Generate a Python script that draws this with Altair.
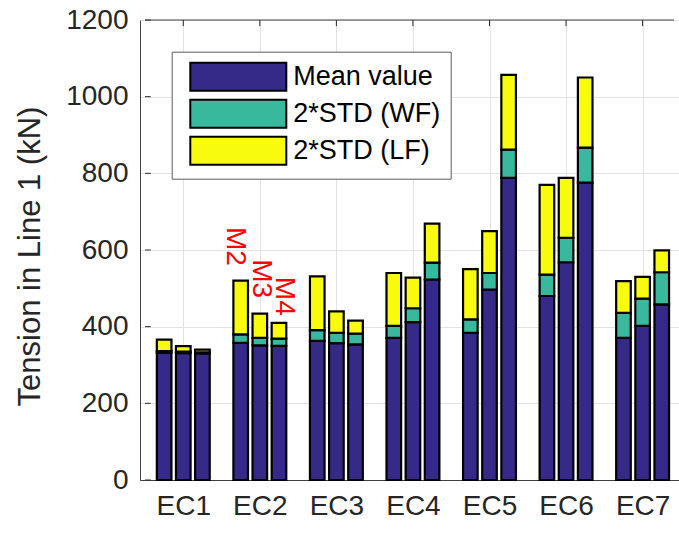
import altair as alt
import pandas as pd

# Load cases and model variants
groups = ["EC1", "EC2", "EC3", "EC4", "EC5", "EC6", "EC7"]
models = ["M2", "M3", "M4"]
model_offsets = [-0.25, 0.0, 0.25]

# Mean tension (kN), one row per load case, columns M2, M3, M4
mean_value = [
    [332, 331, 330],
    [358, 351, 350],
    [363, 357, 354],
    [371, 412, 523],
    [384, 497, 788],
    [480, 568, 776],
    [371, 402, 458],
]
# 2*STD of the wave-frequency part (kN)
std_wf = [
    [4, 4, 3],
    [22, 20, 19],
    [28, 27, 28],
    [31, 36, 44],
    [35, 43, 74],
    [56, 64, 91],
    [65, 71, 84],
]
# 2*STD of the low-frequency part (kN)
std_lf = [
    [30, 14, 7],
    [140, 63, 41],
    [140, 56, 34],
    [138, 80, 102],
    [131, 109, 195],
    [234, 156, 183],
    [83, 57, 57],
]

components = ["Mean value", "2*STD (WF)", "2*STD (LF)"]
component_colors = ["#352a87", "#38b99e", "#f9fb0e"]

# Model tags written over the EC2 bars
tag_text = ["M2", "M3", "M4"]
tag_x = [1.68, 2.01, 2.31]
tag_y = [660, 576, 530]

y_ticks = [0, 200, 400, 600, 800, 1000, 1200]
group_pos = list(range(1, len(groups) + 1))

X_MIN, X_MAX = 0.5, 7.41
Y_MAX = 1200

# Stacked segments: mean, then WF on top, then LF on top
rows = []
for gi, g in enumerate(groups):
    for mi, m in enumerate(models):
        pos = gi + 1 + model_offsets[mi]
        parts = [mean_value[gi][mi], std_wf[gi][mi], std_lf[gi][mi]]
        base = 0
        for ci, c in enumerate(components):
            rows.append({"pos": pos, "group": g, "model": m, "component": c,
                         "order": ci, "y0": base, "y1": base + parts[ci]})
            base += parts[ci]
bars_df = pd.DataFrame(rows)

FONT = "Liberation Sans"
AX = "#262626"
GRID = "#e3e3e3"

x_scale = alt.Scale(domain=[X_MIN, X_MAX], nice=False, zero=False)
y_scale = alt.Scale(domain=[0, Y_MAX], nice=False)

label_expr = "[" + ",".join("'%s'" % g for g in groups) + "][datum.value - 1]"

x_axis = alt.Axis(values=group_pos, labelExpr=label_expr, title=None,
                  grid=True, gridColor=GRID, ticks=False, domainColor="#404040",
                  labelFont=FONT, labelFontSize=28, labelColor=AX, labelPadding=12)
y_axis = alt.Axis(values=y_ticks, format="d", title="Tension in Line 1 (kN)",
                  grid=True, gridColor=GRID, ticks=False, domainColor="#404040",
                  labelFont=FONT, labelFontSize=28, labelColor=AX,
                  labelPadding=12, titleFont=FONT, titleFontSize=31,
                  titleFontWeight="normal", titleColor=AX, titleAngle=-90,
                  titleX=-110, titleY=236, titleAlign="center",
                  titleBaseline="middle")

legend = alt.Legend(
    orient="none", legendX=31.7, legendY=31.7, title=None,
    fillColor="white", strokeColor="#5a5a5a", padding=10,
    symbolType="M-3.4286,-1H3.4286V1H-3.4286Z", symbolSize=784,
    symbolStrokeColor="black", symbolStrokeWidth=2, symbolOffset=41.6,
    labelOffset=40, labelFont=FONT, labelFontSize=27, labelColor="black",
    rowPadding=1, symbolOpacity=1,
)

bars = alt.Chart(bars_df).mark_bar(size=14.6, stroke="black", strokeWidth=2.2).encode(
    x=alt.X("pos:Q", scale=x_scale, axis=x_axis),
    y=alt.Y("y0:Q", scale=y_scale, axis=y_axis),
    y2="y1:Q",
    color=alt.Color("component:N", scale=alt.Scale(domain=components, range=component_colors),
                    legend=legend),
    order="order:Q",
)

# Inward ticks on the left axis
left_ticks = alt.Chart(pd.DataFrame({"v": y_ticks})).mark_rule(color=AX, strokeWidth=1).encode(
    y=alt.Y("v:Q", scale=y_scale, axis=y_axis),
    x=alt.X(datum=X_MIN, scale=x_scale, axis=x_axis),
    x2=alt.datum(X_MIN + 0.075),
)

# Top frame line with inward ticks at the group centres
top_line = alt.Chart(pd.DataFrame({"v": [Y_MAX]})).mark_rule(color="#404040", strokeWidth=1).encode(
    y=alt.Y("v:Q", scale=y_scale, axis=y_axis),
    x=alt.X(datum=X_MIN, scale=x_scale, axis=x_axis),
    x2=alt.datum(X_MAX),
)
top_ticks = alt.Chart(pd.DataFrame({"p": group_pos})).mark_rule(color=AX, strokeWidth=1).encode(
    x=alt.X("p:Q", scale=x_scale, axis=x_axis),
    y=alt.Y(datum=Y_MAX, scale=y_scale, axis=y_axis),
    y2=alt.datum(Y_MAX - 16),
)

tags = alt.Chart(pd.DataFrame({"t": tag_text, "x": tag_x, "y": tag_y})).mark_text(
    angle=90, align="left", baseline="middle", color="#ff0000",
    font=FONT, fontSize=28,
).encode(
    x=alt.X("x:Q", scale=x_scale, axis=x_axis),
    y=alt.Y("y:Q", scale=y_scale, axis=y_axis),
    text="t:N",
)

chart = alt.layer(bars, left_ticks, top_line, top_ticks, tags).properties(
    width=539, height=460,
    autosize=alt.AutoSizeParams(type="none"),
    padding={"left": 140, "top": 20, "right": 0, "bottom": 54},
).configure_view(stroke=None).configure(background="white")

chart.save("out.html", embed_options={"renderer": "svg", "actions": False})
